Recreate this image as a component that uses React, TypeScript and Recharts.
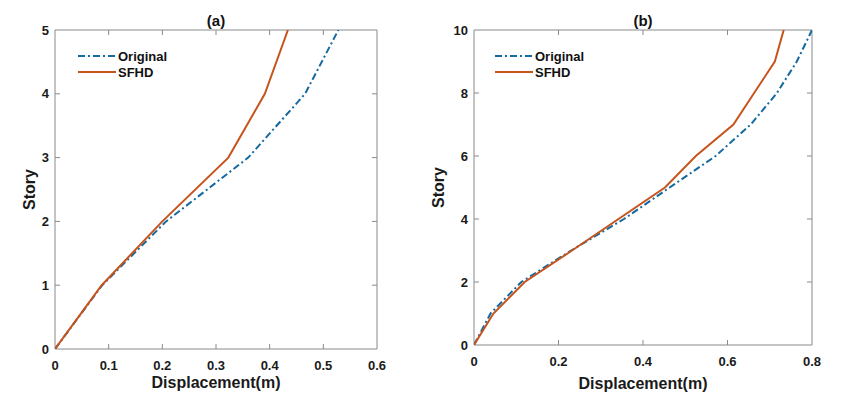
import React from 'react';
import { LineChart, Line, XAxis, YAxis, Legend, ReferenceArea, ReferenceLine } from 'recharts';

// (a) 5-story frame
const storiesA = [0, 1, 2, 3, 4, 5];
const originalA = [0, 0.088, 0.207, 0.36, 0.466, 0.528];
const sfhdA = [0, 0.087, 0.2, 0.323, 0.391, 0.434];
const xTicksA = [0, 0.1, 0.2, 0.3, 0.4, 0.5, 0.6];
const yTicksA = [0, 1, 2, 3, 4, 5];

// (b) 10-story frame
const storiesB = [0, 1, 2, 3, 4, 5, 6, 7, 8, 9, 10];
const originalB = [0, 0.039, 0.112, 0.23, 0.355, 0.463, 0.572, 0.655, 0.717, 0.764, 0.8];
const sfhdB = [0, 0.046, 0.12, 0.232, 0.342, 0.452, 0.525, 0.614, 0.663, 0.712, 0.733];
const xTicksB = [0, 0.2, 0.4, 0.6, 0.8];
const yTicksB = [0, 2, 4, 6, 8, 10];

const BLUE = '#1469a0';
const ORANGE = '#c6541d';
const AXIS = '#8a8a8a';
const FONT = '"Liberation Sans", Arial, sans-serif';
const TICK_LEN = 5;
const W = 425;
const H = 396;
const TOP = 30;

const seriesStyle: Record<string, { color: string; dash?: string }> = {
  Original: { color: BLUE, dash: '7 3 2 3' },
  SFHD: { color: ORANGE },
};

const toPoints = (xs: number[], ys: number[]) => ys.map((s, i) => ({ x: xs[i], story: s }));

const LegendBox = ({ payload }: any) => (
  <div>
    {(payload || []).map((p: any) => {
      const st = seriesStyle[p.value] || { color: p.color };
      return (
        <div key={p.value} style={{ display: 'flex', alignItems: 'center', height: 16 }}>
          <svg width={38} height={4}>
            <line x1={0} y1={2} x2={38} y2={2} stroke={st.color} strokeWidth={2} strokeDasharray={st.dash} />
          </svg>
          <span style={{ marginLeft: 2, fontSize: 13, fontWeight: 700, color: '#111', fontFamily: FONT }}>{p.value}</span>
        </div>
      );
    })}
  </div>
);

const tickStyle = { fill: '#1a1a1a', fontSize: 13, fontWeight: 700, fontFamily: FONT };

interface PanelProps {
  title: string;
  stories: number[];
  original: number[];
  sfhd: number[];
  xTicks: number[];
  yTicks: number[];
  left: number;
  right: number;
  bottom: number;
  storyDx: number;
  labelDy: number;
  legendLeft: number;
}

const Panel: React.FC<PanelProps> = (p) => {
  const xDomain = [p.xTicks[0], p.xTicks[p.xTicks.length - 1]];
  const yDomain = [p.yTicks[0], p.yTicks[p.yTicks.length - 1]];
  // tick length converted to data units (inward ticks on all four sides)
  const plotW = W - p.left - p.right;
  const plotH = H - TOP - p.bottom;
  const dx = ((xDomain[1] - xDomain[0]) * TICK_LEN) / plotW;
  const dy = ((yDomain[1] - yDomain[0]) * TICK_LEN) / plotH;
  const tickProps = { stroke: AXIS, strokeWidth: 1, ifOverflow: 'visible' as const };
  return (
    <div style={{ position: 'relative', width: W, height: H }}>
      <div
        style={{
          position: 'absolute', top: 12, left: p.left, width: plotW,
          textAlign: 'center', fontSize: 15, fontWeight: 700, fontFamily: FONT, color: '#111', lineHeight: '18px',
        }}
      >
        {p.title}
      </div>
      <LineChart width={W} height={H} margin={{ top: TOP, right: p.right, left: 0, bottom: 0 }}>
        <XAxis
          dataKey="x" type="number" domain={xDomain} ticks={p.xTicks} allowDataOverflow
          height={p.bottom} axisLine={false} tickLine={false} tickSize={0} tickMargin={12}
          tick={tickStyle} interval={0}
          label={{ value: 'Displacement(m)', position: 'center', dy: p.labelDy, fill: '#1a1a1a', fontSize: 16, fontWeight: 700, fontFamily: FONT }}
        />
        <YAxis
          dataKey="story" type="number" domain={yDomain} ticks={p.yTicks} allowDataOverflow
          width={p.left} axisLine={false} tickLine={false} tickSize={0} tickMargin={6}
          tick={tickStyle} interval={0}
          label={{ value: 'Story', angle: -90, position: 'center', dx: p.storyDx, fill: '#1a1a1a', fontSize: 16, fontWeight: 700, fontFamily: FONT }}
        />
        <ReferenceArea
          x1={xDomain[0]} x2={xDomain[1]} y1={yDomain[0]} y2={yDomain[1]}
          fill="none" fillOpacity={0} stroke={AXIS} strokeWidth={1} ifOverflow="visible"
        />
        {p.xTicks.slice(1, -1).map((t) => (
          <ReferenceLine key={`xb${t}`} segment={[{ x: t, y: yDomain[0] }, { x: t, y: yDomain[0] + dy }]} {...tickProps} />
        ))}
        {p.xTicks.slice(1, -1).map((t) => (
          <ReferenceLine key={`xt${t}`} segment={[{ x: t, y: yDomain[1] }, { x: t, y: yDomain[1] - dy }]} {...tickProps} />
        ))}
        {p.yTicks.slice(1, -1).map((t) => (
          <ReferenceLine key={`yl${t}`} segment={[{ x: xDomain[0], y: t }, { x: xDomain[0] + dx, y: t }]} {...tickProps} />
        ))}
        {p.yTicks.slice(1, -1).map((t) => (
          <ReferenceLine key={`yr${t}`} segment={[{ x: xDomain[1], y: t }, { x: xDomain[1] - dx, y: t }]} {...tickProps} />
        ))}
        <Legend
          layout="horizontal" verticalAlign="middle" align="center"
          content={<LegendBox />}
          wrapperStyle={{ position: 'absolute', left: p.legendLeft, top: 48, width: 'auto' }}
        />
        <Line
          data={toPoints(p.original, p.stories)} dataKey="story" name="Original"
          stroke={BLUE} strokeWidth={2} strokeDasharray="7 3 2 3" dot={false} isAnimationActive={false}
        />
        <Line
          data={toPoints(p.sfhd, p.stories)} dataKey="story" name="SFHD"
          stroke={ORANGE} strokeWidth={2} dot={false} isAnimationActive={false}
        />
      </LineChart>
    </div>
  );
};

export default function App() {
  return (
    <div style={{ position: 'absolute', left: 0, top: 0, width: 850, height: 396, background: '#fff', display: 'flex' }}>
      <Panel
        title="(a)" stories={storiesA} original={originalA} sfhd={sfhdA} xTicks={xTicksA} yTicks={yTicksA}
        left={55} right={48} bottom={47} storyDx={1.5} labelDy={10} legendLeft={78}
      />
      <Panel
        title="(b)" stories={storiesB} original={originalB} sfhd={sfhdB} xTicks={xTicksB} yTicks={yTicksB}
        left={49} right={38} bottom={51} storyDx={-11.5} labelDy={12.5} legendLeft={70}
      />
    </div>
  );
}
